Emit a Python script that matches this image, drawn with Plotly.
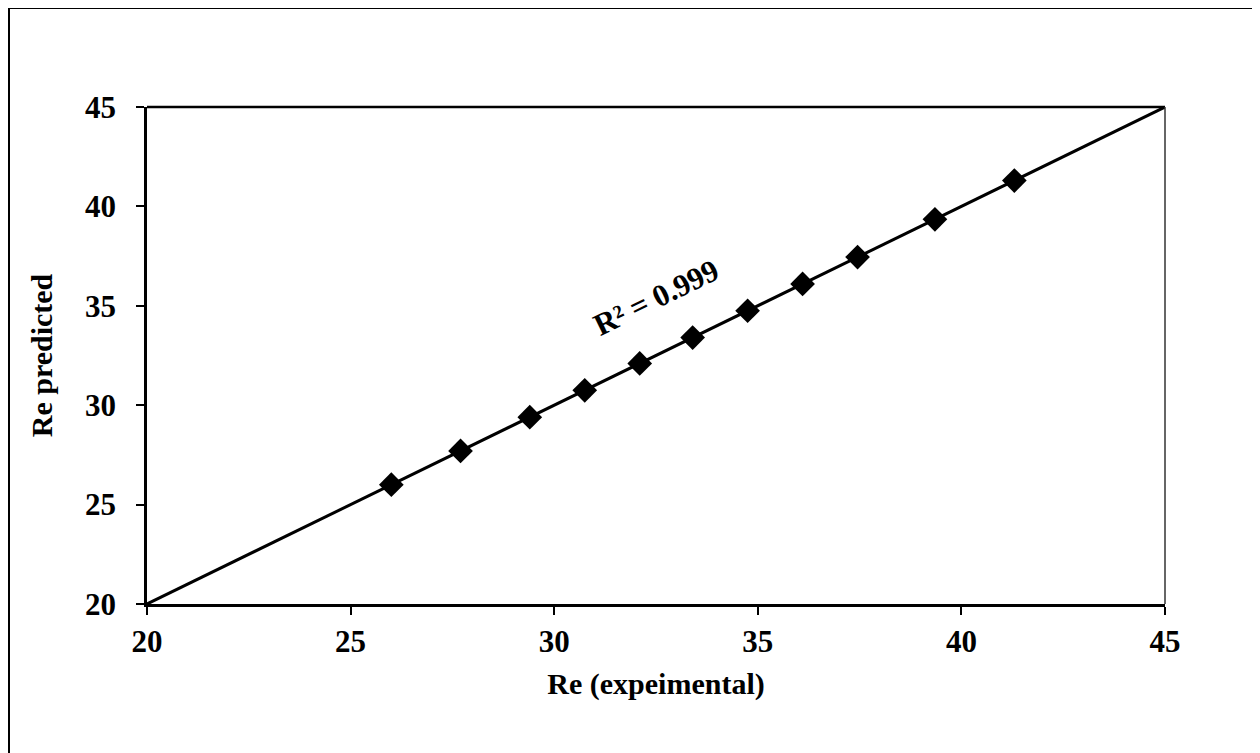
import plotly.graph_objects as go

# Data
re_experimental = [26.0, 27.7, 29.4, 30.75, 32.1, 33.4, 34.75, 36.1, 37.45, 39.35, 41.3]
re_predicted = [26.0, 27.7, 29.4, 30.75, 32.1, 33.4, 34.75, 36.1, 37.45, 39.35, 41.3]
fit_slope = 1.0
fit_intercept = 0.0
axis_range = [20, 45]
tick_vals = [20, 25, 30, 35, 40, 45]
r2_label = "R² = 0.999"

fit_x = axis_range
fit_y = [fit_slope * v + fit_intercept for v in fit_x]

FONT = "Liberation Serif, Times New Roman, serif"

fig = go.Figure()
fig.add_trace(go.Scatter(x=fit_x, y=fit_y, mode="lines",
                         line=dict(color="black", width=3), showlegend=False))
fig.add_trace(go.Scatter(x=re_experimental, y=re_predicted, mode="markers",
                         marker=dict(symbol="diamond", size=19, color="black"),
                         showlegend=False))

# page has an 8px body margin; figure sized so it fits the window
W, H = 1252, 745
ml, mr, mt, mb = 139, 95, 99, 149
pw, ph = W - ml - mr, H - mt - mb

def px2paper_x(px):
    return (px - ml) / pw

def px2paper_y(py):
    return (H - mb - py) / ph

# outer chart frame
fig.add_shape(type="rect", xref="paper", yref="paper",
              x0=px2paper_x(1), x1=px2paper_x(1275), y0=px2paper_y(770), y1=px2paper_y(0),
              line=dict(color="black", width=2), layer="above")
# top and right border of plot area
fig.add_shape(type="line", xref="paper", yref="paper", x0=0, x1=1, y0=1, y1=1,
              line=dict(color="black", width=2.5))
fig.add_shape(type="line", xref="paper", yref="paper", x0=1, x1=1, y0=0, y1=1,
              line=dict(color="#333333", width=1.5))

fig.add_annotation(x=32.5, y=35.4, xref="x", yref="y", text="<b>" + r2_label + "</b>",
                   showarrow=False, textangle=-26,
                   font=dict(family=FONT, size=31, color="black"))

fig.update_layout(
    width=W, height=H,
    margin=dict(l=ml, r=mr, t=mt, b=mb),
    plot_bgcolor="white", paper_bgcolor="white",
    font=dict(family=FONT, size=30, color="black"),
)
fig.update_xaxes(range=axis_range, tickvals=tick_vals, showgrid=False, zeroline=False,
                 showline=True, linecolor="black", linewidth=2.5,
                 ticks="outside", ticklen=8, tickwidth=2, tickcolor="black",
                 tickfont=dict(family=FONT, size=31, color="black", weight="bold"),
                 ticklabelstandoff=0,
                 title=dict(text="<b>Re (expeimental)</b>", standoff=16,
                            font=dict(family=FONT, size=30, color="black")))
fig.update_yaxes(range=axis_range, tickvals=tick_vals, showgrid=False, zeroline=False,
                 showline=True, linecolor="black", linewidth=2.5,
                 ticks="outside", ticklen=8, tickwidth=2, tickcolor="black",
                 tickfont=dict(family=FONT, size=31, color="black", weight="bold"),
                 ticklabelstandoff=14,
                 title=dict(text="<b>Re predicted</b>", standoff=24,
                            font=dict(family=FONT, size=30, color="black")))

fig.write_html("out.html")
